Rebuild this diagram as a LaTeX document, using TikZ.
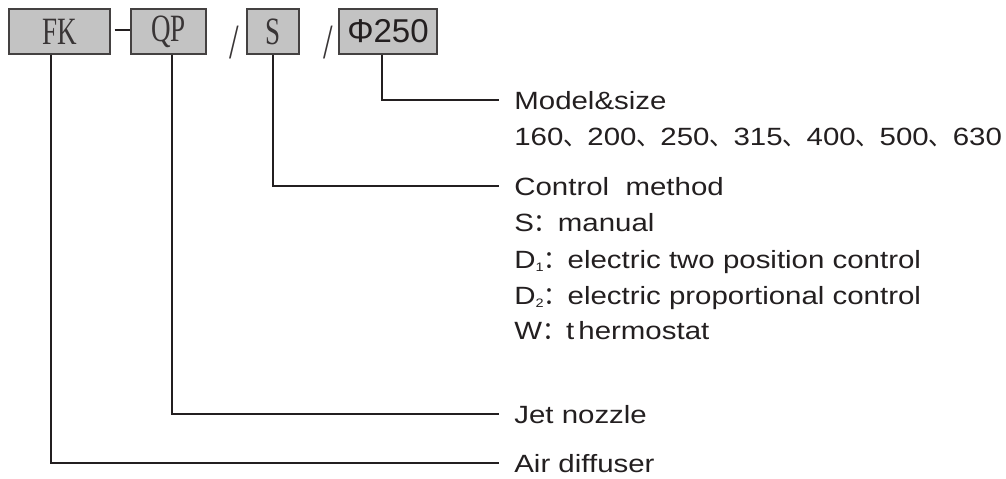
\documentclass[tikz,border=0pt]{standalone}
\usepackage{fontspec}
\usepackage{tikz}
\usetikzlibrary{positioning, calc}
\setmainfont{Liberation Sans}
\newfontfamily\lblfont[FakeStretch=1.18]{Liberation Sans}
\newfontfamily\cjkfont[FakeStretch=0.96]{Noto Sans CJK SC}
\newfontfamily\serfont[FakeStretch=0.7]{Liberation Serif}
\definecolor{boxgray}{RGB}{195,195,195}
\definecolor{inkline}{RGB}{35,31,32}
\newcommand{\dun}{{\cjkfont 、}}
\newcommand{\fcolon}{{\cjkfont ：}}
\newcommand{\tinysub}[1]{\raisebox{-0.12em}{\fontsize{7}{7}\selectfont #1}}

\begin{document}
\begin{tikzpicture}[x=0.02cm, y=-0.02cm,
  codebox/.style={draw=inkline!85, fill=boxgray, line width=0.8pt,
                  inner sep=0pt, minimum height=0.9cm},
  codetxt/.style={font=\serfont\fontsize{22}{24}\selectfont, text=inkline!90},
  lead/.style={draw=inkline, line width=1.1pt},
  item/.style={anchor=west, inner xsep=0.3cm, inner ysep=0pt,
               text height=0.36cm, text depth=0pt, text=inkline,
               font=\lblfont\fontsize{14.2}{17}\selectfont}]
  \useasboundingbox (0,0) rectangle (1006,478);

  % the code FK-QP/S/Phi250
  \node[codebox, codetxt, minimum width=2.02cm] (fk) at (59.5,31.5) {FK\hspace{0.2cm}};
  \node[codebox, codetxt, minimum width=1.5cm] (qp) at (168.5,31.5) {QP\hspace{0.36cm}};
  \node[codebox, codetxt, minimum width=1.04cm] (s) at (273,31.5) {S\hspace{0.24cm}};
  \node[codebox, minimum width=1.96cm, text=inkline,
        font=\fontsize{18.8}{20}\selectfont] (phi) at (388,31.5) {Φ250};
  \draw[lead] ($(fk.east)+(4,-1.5)$) -- ($(qp.west)+(0,-1.5)$);
  \node[codetxt, inner sep=0pt, font=\serfont\fontsize{28}{30}\selectfont] (sla) at (234,43) {/};
  \node[codetxt, inner sep=0pt, font=\serfont\fontsize{28}{30}\selectfont] (slb) at (328,43) {/};

  % what each part means
  \node[item] (size) at (499,100) {Model\&size};
  \node[item] (sizes) at (499,136) {160\dun 200\dun 250\dun 315\dun 400\dun 500\dun 630};
  \node[item] (ctrl) at (499,186) {Control\ \ method};
  \node[item] (man) at (499,222) {S\fcolon manual};
  \node[item] (done) at (499,259) {D\tinysub{1}\fcolon electric two position control};
  \node[item] (dtwo) at (499,295) {D\tinysub{2}\fcolon electric proportional control};
  \node[item] (therm) at (499,330) {W\fcolon t\,hermostat};
  \node[item] (jet) at (499,414) {Jet nozzle};
  \node[item] (air) at (499,463) {Air diffuser};

  % leaders from the boxes
  \draw[lead] ([xshift=-0.12cm]phi.south) |- (size.west);
  \draw[lead] (s.south) |- (ctrl.west);
  \draw[lead] ([xshift=0.07cm]qp.south) |- (jet.west);
  \draw[lead] ([xshift=-0.17cm]fk.south) |- (air.west);
\end{tikzpicture}
\end{document}
